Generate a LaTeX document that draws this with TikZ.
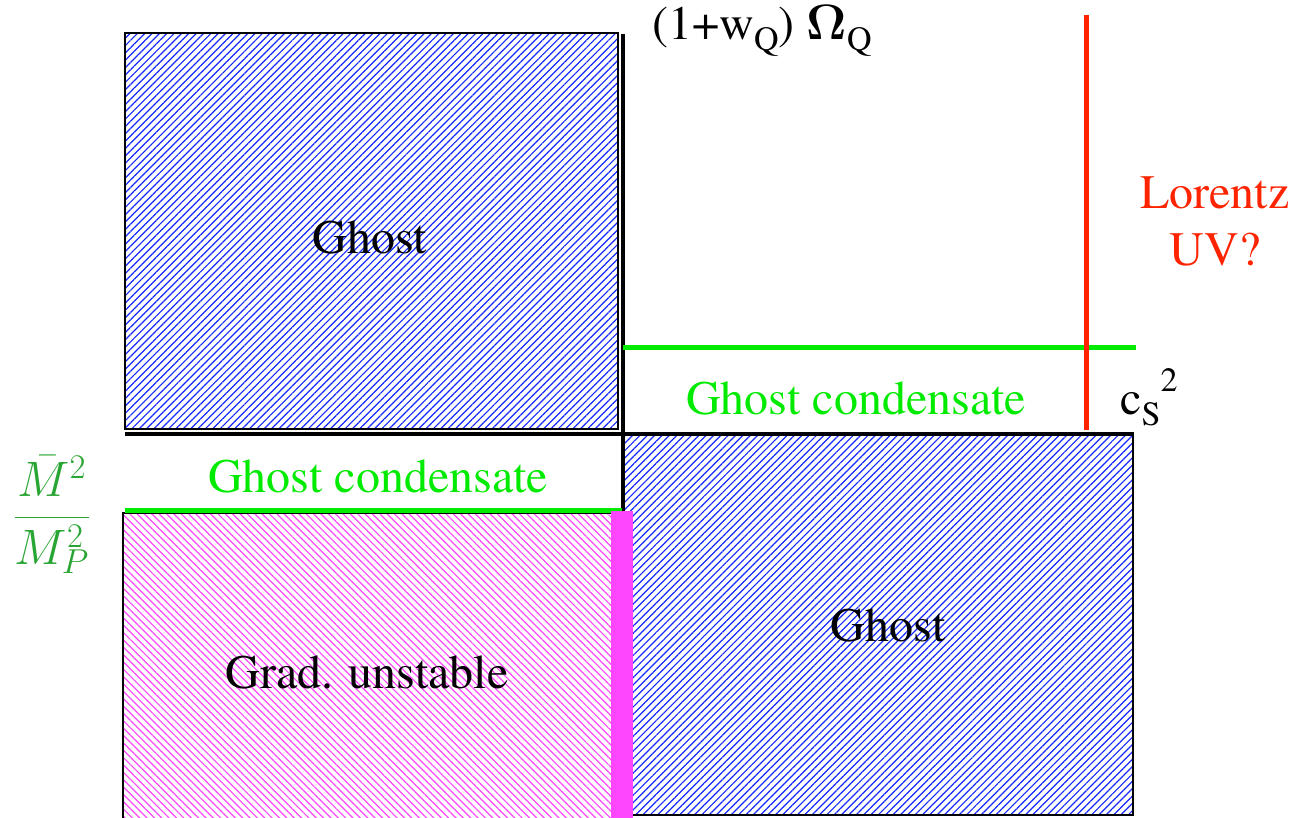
\documentclass[tikz,border=0pt]{standalone}
\usepackage[T1]{fontenc}
\usepackage{times}
\usetikzlibrary{patterns.meta}
\definecolor{hatchblue}{RGB}{20,40,255}
\definecolor{hatchpink}{RGB}{255,70,255}
\definecolor{condgreen}{RGB}{0,235,0}
\definecolor{fracgreen}{RGB}{40,165,50}
\definecolor{uvred}{RGB}{255,35,0}
\newcommand{\lowsub}[1]{\raisebox{-0.22em}{\fontsize{17}{17}\selectfont #1}}
\newcommand{\highsup}[1]{\raisebox{0.5em}{\fontsize{17}{17}\selectfont #1}}

\begin{document}
\begin{tikzpicture}[x=0.5pt,y=-0.5pt,
	ghostbox/.style={draw=black, line width=0.9pt, pattern={Lines[angle=45,distance=2.6pt,line width=0.6pt]}, pattern color=hatchblue},
	gradbox/.style={draw=black, line width=0.9pt, pattern={Lines[angle=-45,distance=2.6pt,line width=0.6pt]}, pattern color=hatchpink},
	axis/.style={line width=1.8pt, black},
	condline/.style={line width=2.5pt, condgreen},
	lbl/.style={font=\fontsize{24}{28.5}\selectfont, inner sep=0pt}]
			\useasboundingbox (0,0) rectangle (1296,818);
			% regions
			\draw[ghostbox] (125,33) rectangle (618,429);
			\draw[ghostbox] (623,434) rectangle (1133,815);
			\draw[gradbox] (123,513) rectangle (612,830);
			% axes
			\draw[axis] (125,434) -- (621,434);
			\draw[axis] (623,34) -- (623,511);
			\draw[axis] (622,434) -- (1134,434);
			% ghost condensate lines
			\draw[condline] (125,510) -- (622,510);
			\draw[condline] (623,348) -- (1136,348);
			\fill[hatchpink] (611,511) rectangle (633,818);
			\draw[uvred, line width=2.5pt] (1086,15) -- (1086,430);
			% labels
			\node[lbl] (ghostA) at (370,237) {Ghost};
			\node[lbl] (ghostB) at (888,625) {Ghost};
			\node[lbl] (grad) at (367,672) {Grad. unstable};
			\node[lbl, text=condgreen] (condA) at (378,476) {Ghost condensate};
			\node[lbl, text=condgreen] (condB) at (856,398) {Ghost condensate};
			\node[lbl, text=uvred, align=center] (lorentz) at (1215,222) {Lorentz\\UV?};
			\node[lbl, anchor=base] (omega) at (762,40) {(1+w\lowsub{Q}) $\mathbf{\Omega}$\lowsub{Q}};
			\node[lbl, anchor=base west] (cs) at (1120,415) {c\lowsub{S}\highsup{2}};
			\node[lbl, text=fracgreen] (mass) at (52,515) {$\displaystyle\frac{\bar M^2}{M_P^2}$};
\end{tikzpicture}
\end{document}
